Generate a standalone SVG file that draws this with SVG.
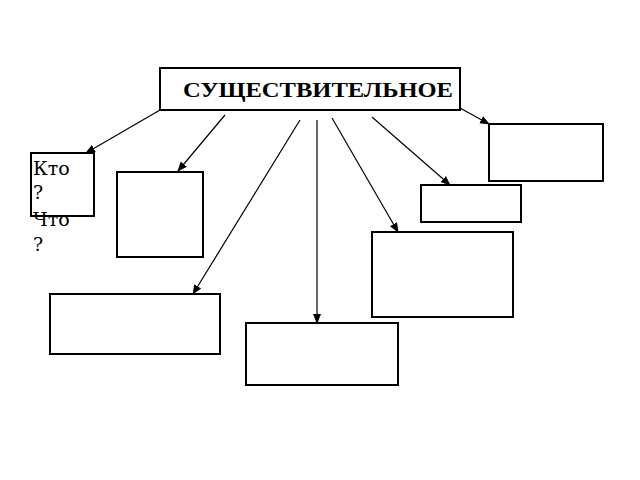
<svg xmlns="http://www.w3.org/2000/svg" width="640" height="480" viewBox="0 0 640 480">
<style>
.b{fill:#fff;stroke:#000;stroke-width:2}
.c line{stroke:#000;stroke-width:1.2;marker-end:url(#a)}
</style>
<defs><marker id="a" viewBox="0 0 10 10" refX="9" refY="5" markerWidth="10" markerHeight="10" orient="auto" markerUnits="userSpaceOnUse"><path d="M0,1 L10,5 L0,9 Z" fill="#000"/></marker></defs>
<rect width="640" height="480" fill="#fff"/>
<g class="c">
<line x1="160" y1="110" x2="86" y2="153"/>
<line x1="225" y1="115" x2="178" y2="171"/>
<line x1="300" y1="120" x2="193" y2="294"/>
<line x1="317" y1="120" x2="317" y2="323"/>
<line x1="332" y1="118" x2="398" y2="232"/>
<line x1="372" y1="117" x2="450" y2="185"/>
<line x1="460" y1="108" x2="489" y2="124"/>
</g>
<g id="main"><rect class="b" x="160" y="68" width="300" height="42"/><text x="183" y="97" textLength="270" lengthAdjust="spacingAndGlyphs" font-family="Liberation Serif, serif" font-weight="bold" font-size="22">СУЩЕСТВИТЕЛЬНОЕ</text></g>
<g id="n1"><rect class="b" x="31" y="153" width="63" height="63"/><text font-family="DejaVu Serif, serif" font-size="19"><tspan x="33" y="175">Кто</tspan><tspan x="33" y="199">?</tspan><tspan x="33" y="226">Что</tspan><tspan x="33" y="251">?</tspan></text></g>
<g id="n2"><rect class="b" x="117" y="172" width="86" height="85"/></g>
<g id="n3"><rect class="b" x="50" y="294" width="170" height="60"/></g>
<g id="n4"><rect class="b" x="246" y="323" width="152" height="62"/></g>
<g id="n5"><rect class="b" x="372" y="232" width="141" height="85"/></g>
<g id="n6"><rect class="b" x="421" y="185" width="100" height="37"/></g>
<g id="n7"><rect class="b" x="489" y="124" width="114" height="57"/></g>
</svg>
